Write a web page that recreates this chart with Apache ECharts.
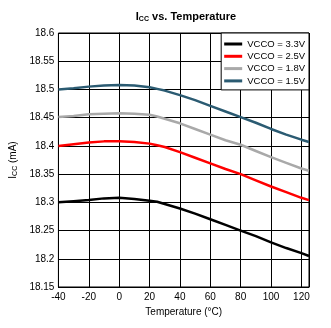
<!DOCTYPE html>
<html>
<head>
<meta charset="utf-8">
<script src="https://cdn.jsdelivr.net/npm/echarts@6/dist/echarts.min.js"></script>
<style>
  html, body { margin: 0; padding: 0; background: #fff; }
  #chart { width: 331px; height: 328px; }
</style>
</head>
<body>
<div id="chart"></div>
<script>
// Supply current vs. temperature for four VCCO levels
const temperatures = [-40, -30, -20, -10, 0, 10, 20, 25, 30, 40, 50, 60, 70, 80, 90, 100, 110, 120, 125];
const icc33 = [18.300, 18.302, 18.304, 18.307, 18.308, 18.306, 18.303, 18.301, 18.297, 18.289, 18.280, 18.270, 18.260, 18.250, 18.240, 18.229, 18.219, 18.210, 18.205];
const icc25 = [18.400, 18.403, 18.406, 18.408, 18.408, 18.407, 18.404, 18.401, 18.398, 18.389, 18.379, 18.369, 18.359, 18.350, 18.339, 18.328, 18.318, 18.308, 18.304];
const icc18 = [18.451, 18.453, 18.456, 18.457, 18.458, 18.457, 18.455, 18.452, 18.448, 18.440, 18.430, 18.420, 18.410, 18.402, 18.391, 18.380, 18.370, 18.360, 18.356];
const icc15 = [18.500, 18.502, 18.505, 18.507, 18.508, 18.507, 18.504, 18.501, 18.498, 18.490, 18.481, 18.471, 18.461, 18.451, 18.441, 18.430, 18.420, 18.411, 18.407];
const seriesNames = ['VCCO = 3.3V', 'VCCO = 2.5V', 'VCCO = 1.8V', 'VCCO = 1.5V'];
const seriesColors = ['#000000', '#ff0000', '#a9a9a9', '#2b5b72'];
const xTicks = [-40, -20, 0, 20, 40, 60, 80, 100, 120];

const font = 'Liberation Sans, Arial, sans-serif';
const values = [icc33, icc25, icc18, icc15];

const chart = echarts.init(document.getElementById('chart'), null, { renderer: 'canvas' });
chart.setOption({
  animation: false,
  backgroundColor: '#ffffff',
  title: {
    text: '{a|I}{s|CC}{a| vs. Temperature}',
    left: 181,
    textAlign: 'center',
    top: 6,
    textStyle: {
      rich: {
        a: { fontFamily: font, fontSize: 11, fontWeight: 'bold', color: '#000' },
        s: { fontFamily: font, fontSize: 7, fontWeight: 'bold', color: '#000', padding: [5, 0, 0, 0] }
      }
    }
  },
  legend: {
    orient: 'vertical',
    right: 22,
    top: 33,
    padding: [5, 4, 3, 3],
    itemGap: 0.3,
    itemWidth: 18,
    itemHeight: 3,
    icon: 'rect',
    backgroundColor: '#ffffff',
    borderColor: '#000000',
    borderWidth: 1,
    textStyle: { fontFamily: font, fontSize: 9.5, color: '#000', lineHeight: 12, padding: [0, 0, 0, 0] },
    data: seriesNames
  },
  grid: { left: 55, right: 22, top: 33, bottom: 41, show: true, borderColor: '#000', borderWidth: 1 },
  xAxis: {
    type: 'value',
    min: -40,
    max: 125,
    interval: 20,
    name: 'Temperature (°C)',
    nameLocation: 'middle',
    nameGap: 20,
    nameTextStyle: { fontFamily: font, fontSize: 10, color: '#000' },
    axisLine: { show: true, lineStyle: { color: '#000', width: 1 } },
    axisTick: { show: false },
    axisLabel: {
      fontFamily: font, fontSize: 10, color: '#000', margin: 5,
      showMaxLabel: false,
      formatter: v => (xTicks.indexOf(v) >= 0 ? String(v) : '')
    },
    splitLine: { show: true, lineStyle: { color: '#000', width: 1 } }
  },
  yAxis: {
    type: 'value',
    min: 18.15,
    max: 18.6,
    interval: 0.05,
    name: '{a|I}{s|CC}{a| (mA)}',
    nameLocation: 'middle',
    nameGap: 34,
    nameTextStyle: {
      rich: {
        a: { fontFamily: font, fontSize: 10, color: '#000' },
        s: { fontFamily: font, fontSize: 7, color: '#000', padding: [4, 0, 0, 0] }
      }
    },
    axisLine: { show: true, lineStyle: { color: '#000', width: 1 } },
    axisTick: { show: false },
    axisLabel: {
      fontFamily: font, fontSize: 10, color: '#000', margin: 4,
      formatter: v => String(parseFloat(v.toFixed(2)))
    },
    splitLine: { show: true, lineStyle: { color: '#000', width: 1 } }
  },
  series: seriesNames.map((name, i) => ({
    name: name,
    type: 'line',
    data: temperatures.map((t, j) => [t, values[i][j]]),
    color: seriesColors[i],
    showSymbol: false,
    smooth: false,
    lineStyle: { width: 2.5, color: seriesColors[i] },
    z: 3
  }))
});
</script>
</body>
</html>
